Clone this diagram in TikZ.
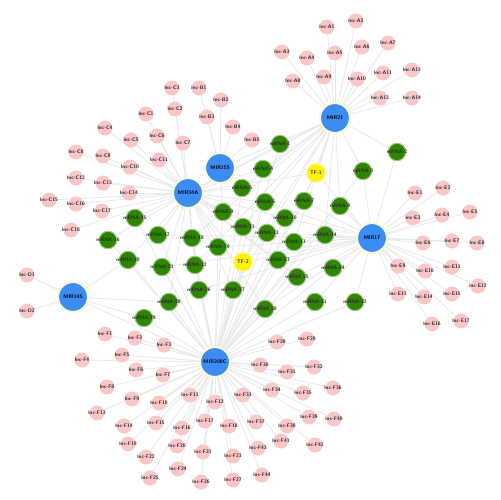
\documentclass[tikz,border=0pt]{standalone}
\pgfdeclarelayer{bg}
\pgfsetlayers{bg,main}
\definecolor{hubblue}{HTML}{3C8CF5}
\definecolor{gfill}{HTML}{2E8500}
\definecolor{pinkf}{HTML}{FAC6C6}
\definecolor{edgec}{HTML}{E8E8E8}
\definecolor{labc}{HTML}{2A2A2A}
\tikzset{
  edge/.style={draw=edgec, line width=0.45pt},
  hub/.style={circle, fill=hubblue, draw=hubblue!20!yellow!20!white, line width=1.2pt, minimum size=0.6cm, inner sep=0pt},
  gnode/.style={circle, fill=gfill, draw=gfill!45!white, line width=0.6pt, minimum size=0.35cm, inner sep=0pt},
  ynode/.style={circle, fill=yellow, draw=yellow!50!white, line width=0.6pt, minimum size=0.37cm, inner sep=0pt},
  pnode/.style={circle, fill=pinkf, minimum size=0.3cm, inner sep=0pt},
  tlab/.style={font=\sffamily\bfseries\fontsize{2.9}{3}\selectfont, text=labc, inner sep=0pt},
  hlab/.style={font=\sffamily\bfseries\fontsize{3}{3}\selectfont, text=black, inner sep=0pt}
}
\begin{document}
\begin{tikzpicture}[x=0.02cm,y=-0.02cm]
\useasboundingbox (0,0) rectangle (500,500);
\begin{pgfonlayer}{bg}
\fill[white] (0,0) rectangle (500,500);
\end{pgfonlayer}
% hubs
\node[hub, label={[hlab]center:MIR21}]   (H1) at (335,118) {};
\node[hub, label={[hlab]center:MIR155}]  (H2) at (220,168) {};
\node[hub, label={[hlab]center:MIR34A}]  (H3) at (188,193) {};
\node[hub, label={[hlab]center:MIR17}]   (H4) at (372,238) {};
\node[hub, label={[hlab]center:MIR145}]  (H5) at (73,297) {};
\node[hub, label={[hlab]center:MIR200C}] (H6) at (215,362) {};
\begin{pgfonlayer}{bg}
\draw[edge] (H3) -- (H1);
\draw[edge] (H2) -- (H1);
\draw[edge] (H5) -- (H6);
\end{pgfonlayer}
% yellow
\foreach \x/\y/\hs [count=\i] in {316/173/{H1,H3,H6,H4}, 243/262/{H1,H3,H6,H4}}{
  \node[ynode, label={[tlab]center:TF-\i}] (y\i) at (\x,\y) {};
  \begin{pgfonlayer}{bg}\foreach \h in \hs {\draw[edge] (\h) -- (y\i);}\end{pgfonlayer}
}
% green
\foreach \x/\y/\hs [count=\i] in {
 280/144/{H1,H3,H6}, 397/152/{H1,H4}, 363/171/{H1,H4,H6}, 263/169/{H1,H3,H6},
 242/188/{H3,H1,H6}, 265/202/{H3,H4,H6}, 304/201/{H1,H4,H6}, 340/206/{H1,H4,H6},
 223/212/{H3,H6,H2}, 285/218/{H3,H4,H6}, 243/227/{H3,H6,H1}, 267/233/{H3,H4,H6},
 294/242/{H4,H6,H1}, 325/235/{H4,H6,H1}, 135/218/{H3,H6}, 108/240/{H3,H6},
 158/235/{H3,H6,H4}, 192/238/{H3,H6,H1}, 218/247/{H3,H6,H4}, 128/260/{H3,H6,H5},
 162/267/{H3,H6,H4}, 195/265/{H3,H6,H1}, 278/260/{H4,H6,H3}, 333/268/{H4,H6},
 297/277/{H4,H6,H3}, 199/290/{H3,H6,H4}, 233/290/{H6,H3,H1}, 169/302/{H6,H5,H3},
 144/318/{H6,H5}, 265/309/{H6,H4,H3}, 315/302/{H6,H4}, 355/302/{H6,H4}}{
  \node[gnode, label={[tlab]center:mRNA-\i}] (g\i) at (\x,\y) {};
  \begin{pgfonlayer}{bg}\foreach \h in \hs {\draw[edge] (\h) -- (g\i);}\end{pgfonlayer}
}
% pink around H1
\foreach \x/\y [count=\i] in {327/27, 356/21, 282/52, 307/58, 335/53, 362/47, 388/43,
 293/81, 324/77, 357/79, 383/73, 412/70, 380/98, 412/98}{
  \node[pnode, label={[tlab]center:lnc-A\i}] (pa\i) at (\x,\y) {};
  \begin{pgfonlayer}{bg}\draw[edge] (H1) -- (pa\i);\end{pgfonlayer}
}
% pink around H2
\foreach \x/\y [count=\i] in {199/88, 221/100, 207/117, 233/127, 252/140}{
  \node[pnode, label={[tlab]center:lnc-B\i}] (pb\i) at (\x,\y) {};
  \begin{pgfonlayer}{bg}\draw[edge] (H2) -- (pb\i);\end{pgfonlayer}
}
% pink around H3
\foreach \x/\y [count=\i] in {146/114, 175/109, 172/88, 105/128, 131/140, 157/136,
 183/143, 76/152, 103/156, 130/167, 159/160, 76/178, 103/183, 129/193, 49/200,
 76/204, 102/211, 71/230}{
  \node[pnode, label={[tlab]center:lnc-C\i}] (pc\i) at (\x,\y) {};
  \begin{pgfonlayer}{bg}\draw[edge] (H3) -- (pc\i);\end{pgfonlayer}
}
% pink around H5
\foreach \x/\y [count=\i] in {27/275, 27/311}{
  \node[pnode, label={[tlab]center:lnc-D\i}] (pd\i) at (\x,\y) {};
  \begin{pgfonlayer}{bg}\draw[edge] (H5) -- (pd\i);\end{pgfonlayer}
}
% pink around H4
\foreach \x/\y [count=\i] in {415/193, 443/188, 413/218, 442/215, 470/212, 423/243,
 452/241, 477/243, 398/266, 425/271, 452/267, 478/286, 398/294, 424/297, 452/294,
 432/324, 461/321}{
  \node[pnode, label={[tlab]center:lnc-E\i}] (pe\i) at (\x,\y) {};
  \begin{pgfonlayer}{bg}\draw[edge] (H4) -- (pe\i);\end{pgfonlayer}
}
% pink around H6
\foreach \x/\y [count=\i] in {105/334, 135/338, 164/345, 82/360, 122/355, 136/370,
 163/375, 107/387, 132/399, 159/403, 190/395, 215/402, 97/413, 124/426, 156/423,
 182/428, 205/421, 229/426, 128/444, 177/446, 203/452, 146/457, 233/456, 178/469,
 150/478, 201/482, 233/480, 277/342, 307/339, 260/365, 287/372, 314/367, 243/395,
 272/390, 303/393, 333/388, 256/422, 287/426, 309/417, 334/419, 281/441, 315/445,
 258/448, 262/475}{
  \node[pnode, label={[tlab]center:lnc-F\i}] (pf\i) at (\x,\y) {};
  \begin{pgfonlayer}{bg}\draw[edge] (H6) -- (pf\i);\end{pgfonlayer}
}
\end{tikzpicture}
\end{document}
